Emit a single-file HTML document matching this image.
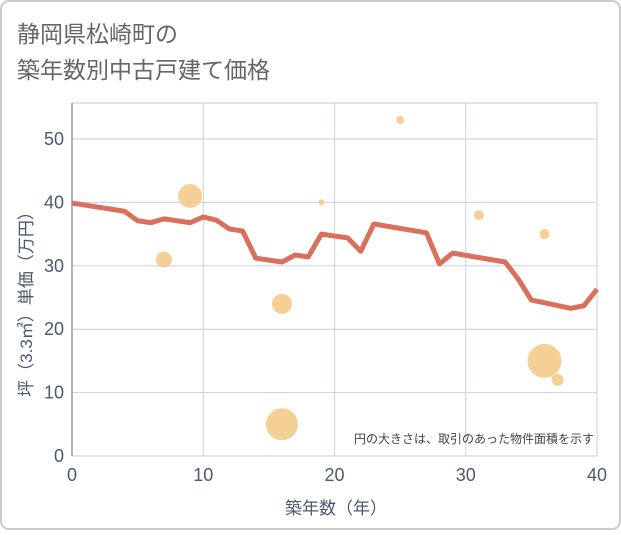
<!DOCTYPE html>
<html><head><meta charset="utf-8">
<style>
body{margin:0;background:#fff;font-family:"Liberation Sans","Noto Sans CJK JP",sans-serif;}
#wrap{position:relative;width:621px;height:530px;}
</style></head>
<body>
<div id="wrap">
<svg id="svg" width="621" height="530" xmlns="http://www.w3.org/2000/svg">
<rect x="1" y="1" width="619" height="528" rx="8" fill="#fff" stroke="#ccc" stroke-width="2"/>
<text x="17" y="42" font-size="23" fill="#666" font-family="Liberation Sans, Noto Sans CJK JP, sans-serif">静岡県松崎町の</text>
<text x="17" y="78" font-size="23" fill="#666" font-family="Liberation Sans, Noto Sans CJK JP, sans-serif">築年数別中古戸建て価格</text>
<g id="grid"></g>
<g id="marks"></g>
<text x="336" y="514" font-size="17" fill="#4a5a6e" text-anchor="middle" font-family="Liberation Sans, Noto Sans CJK JP, sans-serif">築年数（年）</text>
<text transform="translate(32,300) rotate(-90)" font-size="17" fill="#4a5a6e" text-anchor="middle" font-family="Liberation Sans, Noto Sans CJK JP, sans-serif">坪（3.3㎡）単価（万円）</text>
<text x="594" y="443" font-size="12" fill="#444" text-anchor="end" font-family="Liberation Sans, Noto Sans CJK JP, sans-serif">円の大きさは、取引のあった物件面積を示す</text>
</svg>
</div>
<script>
const lineYears=[0,4,5,6,7,9,10,11,12,13,14,16,17,18,19,20,21,22,23,27,28,29,33,34,35,38,39,40];
const linePrices=[39.9,38.6,37.1,36.8,37.4,36.8,37.7,37.2,35.8,35.5,31.2,30.6,31.7,31.4,35.0,34.7,34.4,32.3,36.6,35.2,30.3,32.0,30.6,27.9,24.6,23.3,23.7,26.3];
const bubbleYears=[7,9,16,16,19,25,31,36,36,37];
const bubblePrices=[31,41,24,5,40,53,38,35,15,12];
const bubbleSizes=[8,12,10,16,3,4,5,5,17,6];
const xTicks=[0,10,20,30,40];
const yTicks=[0,10,20,30,40,50];
const NS="http://www.w3.org/2000/svg";
const X0=72,X1=597,Y0=456,YT=103;
const xs=v=>X0+(v/40)*(X1-X0);
const ys=v=>Y0-v*6.34;
const grid=document.getElementById('grid'),marks=document.getElementById('marks');
function mk(tag,attrs,parent){const e=document.createElementNS(NS,tag);for(const k in attrs)e.setAttribute(k,attrs[k]);parent.appendChild(e);return e;}
const bg=mk('rect',{x:X0,y:YT,width:X1-X0,height:Y0-YT,fill:'#fff',stroke:'#c0c8d4'},grid);


xTicks.forEach(t=>{
 const l=mk('line',{x1:xs(t),x2:xs(t),y1:YT,y2:Y0,stroke:'#c8d2de'},grid);
 
 
 const tx=mk('text',{x:xs(t),y:Y0+25,'font-size':18,fill:'#4a5a6e','text-anchor':'middle'},grid);
 tx.textContent=t;
 
 
});
yTicks.forEach(t=>{
 const l=mk('line',{x1:X0,x2:X1,y1:ys(t),y2:ys(t),stroke:'#c8d2de'},grid);
 
 
 const tx=mk('text',{x:X0-8,y:ys(t)+6,'font-size':18,fill:'#4a5a6e','text-anchor':'end'},grid);
 tx.textContent=t;
 
 
});
const ax=mk('line',{x1:X0,x2:X0,y1:YT,y2:Y0,stroke:'#99a',"stroke-width":1.5},grid);


bubbleYears.forEach((yr,i)=>{
 const c=mk('circle',{cx:xs(yr),cy:ys(bubblePrices[i]),r:bubbleSizes[i],fill:'#f3c47c','fill-opacity':0.8},marks);
 
 
});
const pts=lineYears.map((yr,i)=>xs(yr)+','+ys(linePrices[i])).join(' ');
const pl=mk('polyline',{points:pts,fill:'none',stroke:'#d9705c','stroke-width':5,'stroke-linejoin':'round'},marks);


</script>
</body></html>
